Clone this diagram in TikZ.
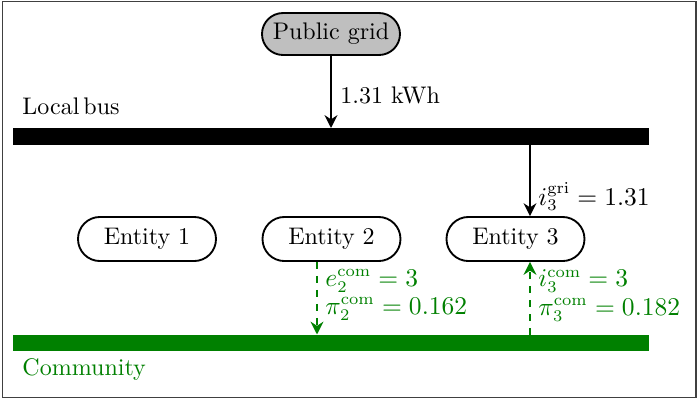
\documentclass[tikz,border=0pt]{standalone}
\usetikzlibrary{arrows.meta}
\begin{document}
\begin{tikzpicture}[x=0.429pt,y=-0.429pt,
  every node/.style={font=\fontsize{10.3pt}{12.4pt}\selectfont},
  entity/.style={draw=black,thick,rectangle,rounded corners=9.4pt,minimum width=59.2pt,minimum height=18.9pt,inner sep=0pt},
  bar/.style={rectangle,inner sep=0pt,minimum width=272.8pt,minimum height=6.9pt},
  flow/.style={thick,-{Stealth[length=5.5pt,width=5.5pt]}},
  comflow/.style={thick,dashed,green!50!black,-{Stealth[length=5.5pt,width=5.5pt]}},
  lbl/.style={inner sep=0pt,anchor=west},
  mlbl/.style={inner sep=0pt,anchor=west,font=\fontsize{10.5pt}{12.6pt}\selectfont},
  glbl/.style={inner sep=0pt,anchor=west,text=green!50!black},
  gmlbl/.style={mlbl,text=green!50!black}]
\useasboundingbox (0,0) rectangle (697,405);
\draw[line width=0.5pt,black!75] (2.5,1.5) rectangle (696,397.5);
% nodes
\node[entity,fill=black!25,minimum height=18pt,rounded corners=9pt] (grid) at (331,34) {Public grid};
\node[bar,fill=black] (bus) at (331,136.5) {};
\node[bar,fill=green!50!black] (com) at (331,343) {};
\node[entity] (e1) at (147,239) {Entity 1};
\node[entity] (e2) at (331.5,239) {Entity 2};
\node[entity] (e3) at (515.5,239) {Entity 3};
\node[lbl] (lb) at (22,106.5) {Local\,bus};
\node[glbl] (cl) at (22,369.5) {Community};
\coordinate (x2) at (317,0);
\coordinate (x3) at (530,0);
% connectors
\draw[flow] (grid.south) -- (grid.south |- bus.north);
\node[lbl] (l1) at (340,95) {1.31 kWh};
\draw[flow] (x3 |- bus.south) -- (x3 |- e3.north);
\node[mlbl] (l2) at (538,196.5) {$i_3^{\mathrm{gri}} = 1.31$};
\draw[comflow] (x2 |- e2.south) -- (x2 |- com.north);
\node[gmlbl] (l3) at (325,281) {$e_2^{\mathrm{com}} = 3$};
\node[gmlbl] (l4) at (325,309) {$\pi_2^{\mathrm{com}} = 0.162$};
\draw[comflow] (x3 |- com.north) -- (x3 |- e3.south);
\node[gmlbl] (l5) at (538,281) {$i_3^{\mathrm{com}} = 3$};
\node[gmlbl] (l6) at (538,310) {$\pi_3^{\mathrm{com}} = 0.182$};
\end{tikzpicture}
\end{document}
